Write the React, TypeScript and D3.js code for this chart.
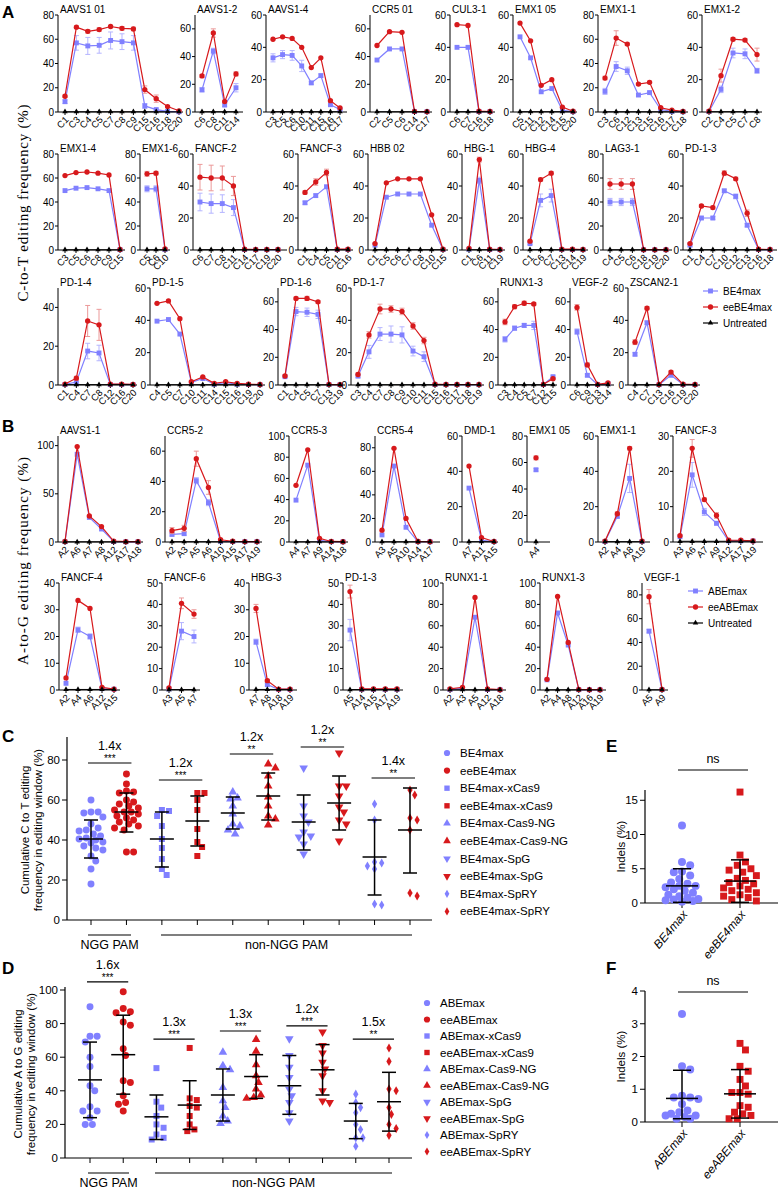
import React from "react";
import * as d3 from "d3";

const FONT = "Arial, 'Liberation Sans', Helvetica, sans-serif";
const SERIF = "'Times New Roman', 'Liberation Serif', serif";
const BLUE = "#8080ff";
const RED = "#d7191c";
const BLUE_ERR = "#b5b5ff";
const RED_ERR = "#eb9999";

// ---------- A: C-to-T editing, BE4max vs eeBE4max (%) ----------
const aavs1_01Sites = ["C1", "C3", "C4", "C5", "C7", "C8", "C9", "C15", "C16", "C18", "C20"];
const aavs1_01Ee = [13, 70, 66.5, 68, 70.5, 69, 68.5, 18.5, 11, 4.5, 1];
const aavs1_01Be = [8.5, 57, 54.5, 55, 59, 58, 57, 5, 2, 0.5, 0.2];
const aavs1_01EeErr = [1, 1, 1.5, 1.5, 1, 1.5, 1.5, 3, 3, 0.5, 0.5];
const aavs1_01BeErr = [1.5, 6, 7, 6.5, 7, 6.5, 6, 2, 1, 0.3, 0.2];

const aavs1_2Sites = ["C6", "C8", "C11", "C14"];
const aavs1_2Ee = [26, 57, 7.5, 27.5];
const aavs1_2Be = [16, 44, 5, 17.5];
const aavs1_2EeErr = [1, 3, 1, 1.5];
const aavs1_2BeErr = [1.5, 2, 1, 3];

const aavs1_4Sites = ["C3", "C5", "C6", "C10", "C11", "C15", "C16", "C17"];
const aavs1_4Ee = [45, 46.5, 45.5, 40, 27.5, 33.5, 7, 2.5];
const aavs1_4Be = [33.5, 35.5, 35, 28.5, 18, 22.5, 4.5, 1.5];
const aavs1_4BeErr = [2.5, 2.5, 3, 3.5, 1, 1, 0.5, 0.5];

const ccr5_01Sites = ["C2", "C5", "C6", "C14", "C17"];
const ccr5_01Ee = [48, 58, 57.5, 0.5, 0.3];
const ccr5_01Be = [37.5, 45.5, 45.5, 0.3, 0.2];

const cul3_1Sites = ["C6", "C7", "C16", "C18"];
const cul3_1Ee = [54, 53.5, 0.5, 0.3];
const cul3_1Be = [40, 40, 0.3, 0.2];

const emx1_05Sites = ["C5", "C11", "C12", "C14", "C15", "C20"];
const emx1_05Ee = [55, 44, 16.5, 20, 3, 0.5];
const emx1_05Be = [46.5, 33.5, 12.5, 14.5, 1, 0.2];

const emx1_1Sites = ["C3", "C6", "C12", "C13", "C15", "C16", "C17", "C18"];
const emx1_1Ee = [28, 61, 56, 23, 24.5, 3.5, 1.5, 0.5];
const emx1_1Be = [17, 37.5, 34, 14, 16, 2, 0.5, 0.2];
const emx1_1EeErr = [1.5, 6, 1, 1, 1, 0.5, 0.5, 0.3];
const emx1_1BeErr = [2.5, 4, 3, 1, 1, 0.5, 0.3, 0.2];

const emx1_2Sites = ["C2", "C4", "C5", "C7", "C8"];
const emx1_2Ee = [0.5, 22.5, 45, 44.5, 35.5];
const emx1_2Be = [0.3, 14, 36.5, 36, 25.5];
const emx1_2EeErr = [0, 4, 1, 1, 4];
const emx1_2BeErr = [0, 2, 3, 3, 1.5];

const emx1_4Sites = ["C3", "C5", "C6", "C8", "C9", "C15"];
const emx1_4Ee = [62, 64.5, 65, 64, 62.5, 0.5];
const emx1_4Be = [49.5, 51.5, 52, 51, 49.5, 0.3];

const emx1_6Sites = ["C5", "C6", "C10"];
const emx1_6Ee = [63.5, 64, 1];
const emx1_6Be = [51, 51, 0.5];
const emx1_6EeErr = [2, 1.5, 0];
const emx1_6BeErr = [2.5, 2.5, 0];

const fancf_2Sites = ["C6", "C7", "C8", "C11", "C14", "C17", "C19", "C20"];
const fancf_2Ee = [45.5, 45, 45, 40, 0.5, 0.3, 0.3, 0.3];
const fancf_2Be = [30, 29, 29, 26.5, 0.3, 0.2, 0.2, 0.2];
const fancf_2EeErr = [8, 8, 7.5, 6, 0, 0, 0, 0];
const fancf_2BeErr = [5.5, 6, 5.5, 5, 0, 0, 0, 0];

const fancf_3Sites = ["C1", "C4", "C5", "C11", "C16"];
const fancf_3Ee = [36, 42.5, 48.5, 0.5, 0.5];
const fancf_3Be = [29.5, 34, 39.5, 0.3, 0.3];
const fancf_3EeErr = [1, 2, 2, 0, 0];
const fancf_3BeErr = [1, 1, 1, 0, 0];

const hbb_02Sites = ["C1", "C5", "C6", "C7", "C8", "C10", "C15"];
const hbb_02Ee = [4, 42, 44.5, 44.5, 44.5, 22, 0.5];
const hbb_02Be = [3, 33, 35, 35, 35, 15.5, 0.3];

const hbg_1Sites = ["C1", "C6", "C11", "C19"];
const hbg_1Ee = [1, 56.5, 0.5, 0.3];
const hbg_1Be = [0.5, 43.5, 0.3, 0.2];
const hbg_1EeErr = [0, 1.5, 0, 0];
const hbg_1BeErr = [0, 2, 0, 0];

const hbg_4Sites = ["C1", "C6", "C7", "C13", "C14", "C19"];
const hbg_4Ee = [5.5, 44, 48, 0.5, 0.5, 0.3];
const hbg_4Be = [4, 31, 34, 0.3, 0.3, 0.2];
const hbg_4EeErr = [0.5, 1, 1, 0, 0, 0];
const hbg_4BeErr = [0.5, 4, 4, 0, 0, 0];

const lag3_1Sites = ["C4", "C5", "C6", "C18", "C19", "C20"];
const lag3_1Ee = [55, 55, 55, 0.3, 0.3, 0.3];
const lag3_1Be = [40, 40, 40, 0.2, 0.2, 0.2];
const lag3_1EeErr = [4.5, 4.5, 4.5, 0, 0, 0];
const lag3_1BeErr = [3, 3, 3, 0, 0, 0];

const pd1_3Sites = ["C1", "C4", "C7", "C10", "C12", "C13", "C16", "C18"];
const pd1_3Ee = [4, 27.5, 26.5, 48, 44.5, 23, 0.5, 0.3];
const pd1_3Be = [3, 20, 20, 37, 33.5, 15.5, 0.3, 0.2];
const pd1_3EeErr = [0.5, 1, 1, 1.5, 1, 2, 0, 0];
const pd1_3BeErr = [0.5, 1, 1, 1, 1.5, 1, 0, 0];

const pd1_4Sites = ["C1", "C4", "C7", "C8", "C12", "C16", "C20"];
const pd1_4Ee = [0.5, 3.5, 33, 31, 0.5, 0.5, 0.3];
const pd1_4Be = [0.3, 1.5, 17.5, 16.5, 0.3, 0.3, 0.2];
const pd1_4EeErr = [0.3, 1, 8, 8, 0, 0, 0];
const pd1_4BeErr = [0.2, 1, 4, 4, 0, 0, 0];

const pd1_5Sites = ["C4", "C5", "C7", "C10", "C11", "C14", "C15", "C16", "C19", "C20"];
const pd1_5Ee = [50.5, 52, 41, 2, 5, 1, 2, 1, 0.5, 0.3];
const pd1_5Be = [39.5, 40.5, 31.5, 1.5, 4, 0.5, 1.5, 0.5, 0.3, 0.2];

const pd1_6Sites = ["C1", "C4", "C5", "C7", "C13", "C19"];
const pd1_6Ee = [6.5, 62.5, 62.5, 60, 0.5, 0.3];
const pd1_6Be = [6, 53, 52.5, 51, 0.3, 0.2];
const pd1_6EeErr = [0.5, 1, 1.5, 1, 0, 0];
const pd1_6BeErr = [0.5, 3, 3, 3, 0, 0];

const pd1_7Sites = ["C3", "C4", "C7", "C8", "C9", "C10", "C11", "C15", "C16", "C17", "C18", "C19"];
const pd1_7Ee = [6.5, 31, 47, 47, 45.5, 36.5, 27.5, 0.5, 0.3, 0.3, 0.3, 0.3];
const pd1_7Be = [5.5, 20.5, 31.5, 31.5, 31, 21, 17.5, 0.3, 0.2, 0.2, 0.2, 0.2];
const pd1_7EeErr = [1, 2, 3, 2, 2, 2, 2, 0, 0, 0, 0, 0];
const pd1_7BeErr = [1, 4, 4, 5, 5, 3, 3, 0, 0, 0, 0, 0];

const runx1_3Sites = ["C3", "C4", "C5", "C7", "C12", "C15"];
const runx1_3Ee = [45.5, 56.5, 59, 58.5, 0.5, 4.5];
const runx1_3Be = [33, 41, 43, 43, 0.3, 6];
const runx1_3EeErr = [2, 1.5, 1.5, 1, 0, 0.5];
const runx1_3BeErr = [2, 1.5, 1.5, 3, 0, 0.5];

const vegf_2Sites = ["C6", "C9", "C13", "C14"];
const vegf_2Ee = [56, 14.5, 0.5, 1.5];
const vegf_2Be = [38.5, 7, 0.3, 1];
const vegf_2EeErr = [2, 1.5, 0, 0.3];
const vegf_2BeErr = [2, 1, 0, 0.3];

const zscan2_1Sites = ["C4", "C7", "C13", "C16", "C19", "C20"];
const zscan2_1Ee = [26.5, 47.5, 0.3, 8, 0.5, 0.3];
const zscan2_1Be = [19, 38.5, 0.2, 6, 0.3, 0.2];
const zscan2_1EeErr = [1.5, 1, 0, 0.8, 0, 0];
const zscan2_1BeErr = [1, 1, 0, 0.8, 0, 0];

// ---------- B: A-to-G editing, ABEmax vs eeABEmax (%) ----------
const aavs1_1Sites = ["A2", "A6", "A7", "A8", "A12", "A17", "A18"];
const aavs1_1Ee = [0.5, 99, 27, 16, 1, 0.3, 0.3];
const aavs1_1Be = [0.3, 91, 25.5, 13.5, 0.5, 0.2, 0.2];

const ccr5_2Sites = ["A2", "A3", "A5", "A6", "A10", "A15", "A17", "A19"];
const ccr5_2Ee = [7.5, 9, 55, 36, 1.5, 0.5, 0.3, 0.3];
const ccr5_2Be = [5, 5.5, 40.5, 26, 0.5, 0.3, 0.2, 0.2];
const ccr5_2EeErr = [2, 2, 5, 4.5, 0.5, 0, 0, 0];
const ccr5_2BeErr = [1, 1, 2, 2, 0.3, 0, 0, 0];

const ccr5_3Sites = ["A4", "A7", "A9", "A14", "A18"];
const ccr5_3Ee = [53.5, 87, 3.5, 0.5, 0.3];
const ccr5_3Be = [39.5, 72.5, 1.5, 0.3, 0.2];

const ccr5_4Sites = ["A3", "A5", "A10", "A14", "A17"];
const ccr5_4Ee = [10, 79.5, 20, 0.5, 0.3];
const ccr5_4Be = [6, 64.5, 12.5, 0.3, 0.2];

const dmd_1Sites = ["A7", "A11", "A15"];
const dmd_1Ee = [43, 2.5, 0.3];
const dmd_1Be = [30.5, 1, 0.2];

const emx1_05bSites = ["A4"];
const emx1_05bEe = [63.5];
const emx1_05bBe = [54.5];
const emx1_05bEeErr = [1.5];
const emx1_05bBeErr = [1];

const emx1_1bSites = ["A2", "A4", "A8", "A19"];
const emx1_1bEe = [0.5, 16, 53, 0.5];
const emx1_1bBe = [0.3, 14.5, 36, 0.3];
const emx1_1bEeErr = [0, 1, 1, 0];
const emx1_1bBeErr = [0, 1, 8, 0];

const fancf_3bSites = ["A3", "A6", "A7", "A9", "A12", "A17", "A19"];
const fancf_3bEe = [1.8, 26.5, 12, 7.5, 0.5, 0.5, 0.3];
const fancf_3bBe = [1.5, 19, 8.5, 5.3, 0.3, 0.3, 0.3];
const fancf_3bEeErr = [0.3, 2.5, 0.5, 0.8, 0, 0, 0];
const fancf_3bBeErr = [0.3, 3.5, 1, 0.5, 0, 0, 0];

const fancf_4Sites = ["A2", "A4", "A6", "A12", "A15"];
const fancf_4Ee = [4.5, 33.5, 30.5, 1, 0.3];
const fancf_4Be = [2.5, 22.5, 20, 0.5, 0.3];
const fancf_4BeErr = [0.3, 1, 1, 0, 0];

const fancf_6Sites = ["A3", "A5", "A7"];
const fancf_6Ee = [1, 40.5, 35.5];
const fancf_6Be = [0.5, 27.5, 25];
const fancf_6EeErr = [0.3, 2.5, 2];
const fancf_6BeErr = [0.3, 4, 3];

const hbg_3Sites = ["A7", "A8", "A18", "A19"];
const hbg_3Ee = [30.5, 3.5, 0.3, 0.3];
const hbg_3Be = [18, 2, 0.2, 0.2];
const hbg_3EeErr = [1.5, 0.5, 0, 0];
const hbg_3BeErr = [1, 0.5, 0, 0];

const pd1_3bSites = ["A5", "A14", "A15", "A17", "A19"];
const pd1_3bEe = [46, 0.5, 0.5, 0.5, 0.5];
const pd1_3bBe = [28, 0.3, 0.3, 0.3, 0.3];
const pd1_3bEeErr = [3, 0, 0, 0, 0];
const pd1_3bBeErr = [5, 0, 0, 0, 0];

const runx1_1Sites = ["A2", "A3", "A5", "A12", "A18"];
const runx1_1Ee = [1, 2.5, 86.5, 1, 0.3];
const runx1_1Be = [0.5, 1.5, 68, 0.5, 0.3];

const runx1_3bSites = ["A2", "A4", "A8", "A12", "A16", "A19"];
const runx1_3bEe = [10, 87.5, 44.5, 0.5, 0.3, 0.3];
const runx1_3bBe = [9.5, 72, 42, 0.3, 0.2, 0.2];

const vegf_1Sites = ["A5", "A9"];
const vegf_1Ee = [78.5, 0.5];
const vegf_1Be = [49.5, 0.3];
const vegf_1EeErr = [6, 0];
const vegf_1BeErr = [1.5, 0];

// untreated controls read as ~0 at every site
const untreatedLevel = 0.2;

// ---------- C: cumulative C-to-T editing per variant ----------
const cGroups = ["BE4max", "eeBE4max", "BE4max-xCas9", "eeBE4max-xCas9", "BE4max-Cas9-NG", "eeBE4max-Cas9-NG", "BE4max-SpG", "eeBE4max-SpG", "BE4max-SpRY", "eeBE4max-SpRY"];
const cBE4max = [60, 54, 53.5, 54, 51.5, 48, 46, 45, 44.5, 43, 42, 41, 40.5, 40, 39, 38.5, 37, 36, 35, 32, 29.5, 25.5, 18];
const cEeBE4max = [73, 68, 64, 64.5, 63.5, 60, 59, 58, 57, 56, 55, 54, 54, 53, 52, 51, 50, 49, 48, 47, 46, 45, 34, 34];
const cBE4maxX = [55, 54.5, 52, 47, 40.5, 36, 30.5, 25.5, 22.5];
const cEeBE4maxX = [63.5, 63.5, 60, 55, 45.5, 39, 36.5, 32];
const cBE4maxNG = [64, 61, 60.5, 57, 53, 48, 47, 45, 43];
const cEeBE4maxNG = [78, 76, 72, 67, 61.5, 57, 52, 50.5, 47.5];
const cBE4maxSpG = [76, 57, 52, 49, 44, 42, 41.5, 38, 33];
const cEeBE4maxSpG = [83.5, 67, 67, 62, 56.5, 54, 50, 48, 39.5];
const cBE4maxSpRY = [58, 50, 28.5, 27, 25.5, 29, 8, 7.5];
const cEeBE4maxSpRY = [65, 62.5, 51, 50, 45, 13.5, 12];
const cMean = [40.5, 54, 40.5, 49.5, 53.5, 62, 49, 58.5, 31.5, 45];
const cSdLow = [31, 44, 26.5, 37, 45.5, 50, 35, 45, 12.5, 23.5];
const cSdHigh = [50, 63.5, 54, 62, 61.5, 73.5, 62.5, 72, 50, 66];
const cFold = ["1.4x", "1.2x", "1.2x", "1.2x", "1.4x"];
const cStars = ["***", "***", "**", "**", "**"];
const cBracketAt = [78.5, 70, 83, 86.5, 71];

// ---------- D: cumulative A-to-G editing per variant ----------
const dGroups = ["ABEmax", "eeABEmax", "ABEmax-xCas9", "eeABEmax-xCas9", "ABEmax-Cas9-NG", "eeABEmax-Cas9-NG", "ABEmax-SpG", "eeABEmax-SpG", "ABEmax-SpRY", "eeABEmax-SpRY"];
const dABEmax = [90, 72.5, 72.5, 69, 60, 54.5, 43, 40, 30.5, 28, 28, 24, 20, 20];
const dEeABEmax = [99, 89, 87, 86.5, 81, 79, 65, 61, 46, 45, 37, 33, 32, 28];
const dABEmaxX = [53.5, 33.5, 30, 25, 20, 18, 14, 12, 11];
const dEeABEmaxX = [65.5, 35.5, 34.5, 31, 30, 25, 20, 17, 16];
const dABEmaxNG = [63, 55, 52.5, 42, 34, 30, 25, 22, 20.5];
const dEeABEmaxNG = [70.5, 63.5, 55.5, 49, 45, 41, 37.5, 36, 35.5];
const dABEmaxSpG = [71, 61, 54, 48, 41, 37, 33, 27, 22];
const dEeABEmaxSpG = [75, 67, 62.5, 57, 53, 49, 40, 34, 33];
const dABEmaxSpRY = [38, 33, 30, 27, 20, 17, 12, 12, 7];
const dEeABEmaxSpRY = [65.5, 57.5, 41, 40, 30, 26, 20, 17.5, 13.5];
const dMean = [46.5, 61.5, 24.5, 31.5, 37.5, 48.5, 43, 52.5, 22, 33.5];
const dSdLow = [24, 38, 11, 17, 22, 35.5, 26, 37.5, 11.5, 16];
const dSdHigh = [69, 85, 37.5, 46, 53, 61.5, 61, 67.5, 32.5, 51];
const dFold = ["1.6x", "1.3x", "1.3x", "1.2x", "1.5x"];
const dStars = ["***", "***", "***", "***", "**"];
const dBracketAt = [104.8, 70.8, 75.6, 78.6, 70.8];

// ---------- E / F: indels (%) ----------
const eGroups = ["BE4max", "eeBE4max"];
const eBE4max = [11.3, 6, 5.5, 4.6, 4.5, 4, 3.5, 3, 2.8, 2.5, 2.5, 2.3, 2, 1.8, 1.5, 1.2, 1, 0.8, 0.6, 0.5, 0.4, 0.3, 0.2];
const eEeBE4max = [16.2, 7, 6, 5.5, 5, 4.8, 4.5, 4, 3.6, 3.3, 3, 2.8, 2.5, 2.2, 2, 1.8, 1.5, 1.2, 1, 0.8, 0.5, 0.3];
const eMean = [2.5, 3.2];
const eSdLow = [0.1, 0.1];
const eSdHigh = [5, 6.3];

const fGroups = ["ABEmax", "eeABEmax"];
const fABEmax = [3.3, 1.7, 1.6, 0.8, 0.75, 0.75, 0.7, 0.55, 0.35, 0.3, 0.25, 0.2, 0.2, 0.15, 0.1, 0.1];
const fEeABEmax = [2.4, 2.2, 1.7, 1.55, 1.3, 1.1, 0.9, 0.9, 0.85, 0.5, 0.45, 0.3, 0.25, 0.2, 0.1, 0.1];
const fMean = [0.72, 0.86];
const fSdLow = [0.1, 0.12];
const fSdHigh = [1.58, 1.6];

// ---------- subplot tables ----------
type Sub = { title: string; sites: string[]; ee: number[]; be: number[]; eeErr?: number[]; beErr?: number[]; yMax: number; step: number };

const rowA1: Sub[] = [
  { title: "AAVS1 01", sites: aavs1_01Sites, ee: aavs1_01Ee, be: aavs1_01Be, eeErr: aavs1_01EeErr, beErr: aavs1_01BeErr, yMax: 80, step: 20 },
  { title: "AAVS1-2", sites: aavs1_2Sites, ee: aavs1_2Ee, be: aavs1_2Be, eeErr: aavs1_2EeErr, beErr: aavs1_2BeErr, yMax: 70, step: 20 },
  { title: "AAVS1-4", sites: aavs1_4Sites, ee: aavs1_4Ee, be: aavs1_4Be, beErr: aavs1_4BeErr, yMax: 60, step: 20 },
  { title: "CCR5 01", sites: ccr5_01Sites, ee: ccr5_01Ee, be: ccr5_01Be, yMax: 70, step: 20 },
  { title: "CUL3-1", sites: cul3_1Sites, ee: cul3_1Ee, be: cul3_1Be, yMax: 60, step: 20 },
  { title: "EMX1 05", sites: emx1_05Sites, ee: emx1_05Ee, be: emx1_05Be, yMax: 60, step: 20 },
  { title: "EMX1-1", sites: emx1_1Sites, ee: emx1_1Ee, be: emx1_1Be, eeErr: emx1_1EeErr, beErr: emx1_1BeErr, yMax: 80, step: 20 },
  { title: "EMX1-2", sites: emx1_2Sites, ee: emx1_2Ee, be: emx1_2Be, eeErr: emx1_2EeErr, beErr: emx1_2BeErr, yMax: 60, step: 20 },
];
const rowA2: Sub[] = [
  { title: "EMX1-4", sites: emx1_4Sites, ee: emx1_4Ee, be: emx1_4Be, yMax: 80, step: 20 },
  { title: "EMX1-6", sites: emx1_6Sites, ee: emx1_6Ee, be: emx1_6Be, eeErr: emx1_6EeErr, beErr: emx1_6BeErr, yMax: 80, step: 20 },
  { title: "FANCF-2", sites: fancf_2Sites, ee: fancf_2Ee, be: fancf_2Be, eeErr: fancf_2EeErr, beErr: fancf_2BeErr, yMax: 60, step: 20 },
  { title: "FANCF-3", sites: fancf_3Sites, ee: fancf_3Ee, be: fancf_3Be, eeErr: fancf_3EeErr, beErr: fancf_3BeErr, yMax: 60, step: 20 },
  { title: "HBB 02", sites: hbb_02Sites, ee: hbb_02Ee, be: hbb_02Be, yMax: 60, step: 20 },
  { title: "HBG-1", sites: hbg_1Sites, ee: hbg_1Ee, be: hbg_1Be, eeErr: hbg_1EeErr, beErr: hbg_1BeErr, yMax: 60, step: 20 },
  { title: "HBG-4", sites: hbg_4Sites, ee: hbg_4Ee, be: hbg_4Be, eeErr: hbg_4EeErr, beErr: hbg_4BeErr, yMax: 60, step: 20 },
  { title: "LAG3-1", sites: lag3_1Sites, ee: lag3_1Ee, be: lag3_1Be, eeErr: lag3_1EeErr, beErr: lag3_1BeErr, yMax: 80, step: 20 },
  { title: "PD-1-3", sites: pd1_3Sites, ee: pd1_3Ee, be: pd1_3Be, eeErr: pd1_3EeErr, beErr: pd1_3BeErr, yMax: 60, step: 20 },
];
const rowA3: Sub[] = [
  { title: "PD-1-4", sites: pd1_4Sites, ee: pd1_4Ee, be: pd1_4Be, eeErr: pd1_4EeErr, beErr: pd1_4BeErr, yMax: 50, step: 20 },
  { title: "PD-1-5", sites: pd1_5Sites, ee: pd1_5Ee, be: pd1_5Be, yMax: 60, step: 20 },
  { title: "PD-1-6", sites: pd1_6Sites, ee: pd1_6Ee, be: pd1_6Be, eeErr: pd1_6EeErr, beErr: pd1_6BeErr, yMax: 70, step: 20 },
  { title: "PD-1-7", sites: pd1_7Sites, ee: pd1_7Ee, be: pd1_7Be, eeErr: pd1_7EeErr, beErr: pd1_7BeErr, yMax: 60, step: 20 },
  { title: "RUNX1-3", sites: runx1_3Sites, ee: runx1_3Ee, be: runx1_3Be, eeErr: runx1_3EeErr, beErr: runx1_3BeErr, yMax: 70, step: 20 },
  { title: "VEGF-2", sites: vegf_2Sites, ee: vegf_2Ee, be: vegf_2Be, eeErr: vegf_2EeErr, beErr: vegf_2BeErr, yMax: 70, step: 20 },
  { title: "ZSCAN2-1", sites: zscan2_1Sites, ee: zscan2_1Ee, be: zscan2_1Be, eeErr: zscan2_1EeErr, beErr: zscan2_1BeErr, yMax: 60, step: 20 },
];
const rowB1: Sub[] = [
  { title: "AAVS1-1", sites: aavs1_1Sites, ee: aavs1_1Ee, be: aavs1_1Be, yMax: 110, step: 50 },
  { title: "CCR5-2", sites: ccr5_2Sites, ee: ccr5_2Ee, be: ccr5_2Be, eeErr: ccr5_2EeErr, beErr: ccr5_2BeErr, yMax: 70, step: 20 },
  { title: "CCR5-3", sites: ccr5_3Sites, ee: ccr5_3Ee, be: ccr5_3Be, yMax: 100, step: 20 },
  { title: "CCR5-4", sites: ccr5_4Sites, ee: ccr5_4Ee, be: ccr5_4Be, yMax: 90, step: 20 },
  { title: "DMD-1", sites: dmd_1Sites, ee: dmd_1Ee, be: dmd_1Be, yMax: 60, step: 20 },
  { title: "EMX1 05", sites: emx1_05bSites, ee: emx1_05bEe, be: emx1_05bBe, eeErr: emx1_05bEeErr, beErr: emx1_05bBeErr, yMax: 80, step: 20 },
  { title: "EMX1-1", sites: emx1_1bSites, ee: emx1_1bEe, be: emx1_1bBe, eeErr: emx1_1bEeErr, beErr: emx1_1bBeErr, yMax: 60, step: 20 },
  { title: "FANCF-3", sites: fancf_3bSites, ee: fancf_3bEe, be: fancf_3bBe, eeErr: fancf_3bEeErr, beErr: fancf_3bBeErr, yMax: 30, step: 10 },
];
const rowB2: Sub[] = [
  { title: "FANCF-4", sites: fancf_4Sites, ee: fancf_4Ee, be: fancf_4Be, beErr: fancf_4BeErr, yMax: 40, step: 10 },
  { title: "FANCF-6", sites: fancf_6Sites, ee: fancf_6Ee, be: fancf_6Be, eeErr: fancf_6EeErr, beErr: fancf_6BeErr, yMax: 50, step: 10 },
  { title: "HBG-3", sites: hbg_3Sites, ee: hbg_3Ee, be: hbg_3Be, eeErr: hbg_3EeErr, beErr: hbg_3BeErr, yMax: 40, step: 10 },
  { title: "PD-1-3", sites: pd1_3bSites, ee: pd1_3bEe, be: pd1_3bBe, eeErr: pd1_3bEeErr, beErr: pd1_3bBeErr, yMax: 50, step: 10 },
  { title: "RUNX1-1", sites: runx1_1Sites, ee: runx1_1Ee, be: runx1_1Be, yMax: 100, step: 20 },
  { title: "RUNX1-3", sites: runx1_3bSites, ee: runx1_3bEe, be: runx1_3bBe, yMax: 100, step: 20 },
  { title: "VEGF-1", sites: vegf_1Sites, ee: vegf_1Ee, be: vegf_1Be, eeErr: vegf_1EeErr, beErr: vegf_1BeErr, yMax: 90, step: 20 },
];

// layout: [y-axis x, last point x, x-axis end] per subplot
const slotsA1 = [[58, 179, 183], [195, 236, 243], [266, 340, 347], [370, 427, 432], [450, 490, 495], [513, 573, 577], [598, 683, 688], [702, 757, 762]];
const slotsA2 = [[58, 120, 125], [140, 165, 170], [193, 278, 287], [298, 348, 353], [368, 443, 448], [462, 500, 505], [523, 583, 588], [603, 666, 672], [683, 770, 777]];
const slotsA3 = [[58, 133, 137], [150, 260, 265], [278, 340, 345], [351, 479, 484], [498, 553, 557], [570, 608, 614], [628, 695, 700]];
const slotsB1 = [[58, 138, 143], [165, 257, 262], [289, 343, 348], [375, 430, 440], [462, 494, 498], [527, 538, 550], [598, 642, 650], [673, 753, 763]];
const slotsB2 = [[59, 114, 120], [162, 194, 200], [249, 290, 297], [343, 397, 403], [443, 500, 506], [540, 600, 606], [642, 662, 668]];

const tri = d3.symbol().type(d3.symbolTriangle).size(13)()!;
const sq = d3.symbol().type(d3.symbolSquare).size(24)()!;
const circ = d3.symbol().type(d3.symbolCircle).size(22)()!;

function ErrBars({ xs, vals, errs, y, color }: any) {
  if (!errs) return null;
  return (
    <g stroke={color} strokeWidth={1}>
      {vals.map((v: number, i: number) =>
        errs[i] > 0.4 ? (
          <g key={i}>
            <line x1={xs[i]} x2={xs[i]} y1={y(v - errs[i])} y2={y(v + errs[i])} />
            <line x1={xs[i] - 2.5} x2={xs[i] + 2.5} y1={y(v + errs[i])} y2={y(v + errs[i])} />
            <line x1={xs[i] - 2.5} x2={xs[i] + 2.5} y1={y(Math.max(0, v - errs[i]))} y2={y(Math.max(0, v - errs[i]))} />
          </g>
        ) : null
      )}
    </g>
  );
}

function LinePlot({ s, slot, top, bottom }: { s: Sub; slot: number[]; top: number; bottom: number }) {
  const [ax, last, end] = slot;
  const x = d3.scalePoint<string>().domain(s.sites).range([ax + 7, last]).align(0.5);
  const y = d3.scaleLinear().domain([0, s.yMax]).range([bottom, top]);
  const xs = s.sites.map((c) => x(c)!);
  const line = d3.line<number>().x((_, i) => xs[i]).y((d) => y(d));
  const ticks = d3.range(0, s.yMax + 0.01, s.step);
  const untreated = s.sites.map(() => untreatedLevel);
  return (
    <g fontFamily={FONT}>
      <text x={ax + 2} y={top - 2} fontSize={10}>{s.title}</text>
      <line x1={ax} x2={ax} y1={top} y2={bottom} stroke="#000" />
      <line x1={ax} x2={end} y1={bottom} y2={bottom} stroke="#000" />
      {ticks.map((t) => (
        <g key={t}>
          <line x1={ax - 3} x2={ax} y1={y(t)} y2={y(t)} stroke="#000" />
          <text x={ax - 4} y={y(t)} dy="0.35em" textAnchor="end" fontSize={10}>{t}</text>
        </g>
      ))}
      {s.sites.map((c, i) => (
        <g key={c}>
          <line x1={xs[i]} x2={xs[i]} y1={bottom} y2={bottom + 3} stroke="#000" />
          <text transform={`translate(${xs[i] + 2},${bottom + 6}) rotate(-45)`} textAnchor="end" dy="0.35em" fontSize={9.5}>{c}</text>
        </g>
      ))}
      <ErrBars xs={xs} vals={s.be} errs={s.beErr} y={y} color={BLUE_ERR} />
      <path d={line(s.be)!} fill="none" stroke={BLUE} strokeWidth={1.2} />
      {s.be.map((v, i) => <path key={i} d={sq} transform={`translate(${xs[i]},${y(v)})`} fill={BLUE} />)}
      <ErrBars xs={xs} vals={s.ee} errs={s.eeErr} y={y} color={RED_ERR} />
      <path d={line(s.ee)!} fill="none" stroke={RED} strokeWidth={1.2} />
      {s.ee.map((v, i) => <path key={i} d={circ} transform={`translate(${xs[i]},${y(v)})`} fill={RED} />)}
      <path d={line(untreated)!} fill="none" stroke="#000" strokeWidth={1} />
      {untreated.map((v, i) => <path key={i} d={tri} transform={`translate(${xs[i]},${y(v)})`} fill="#000" />)}
    </g>
  );
}

function LineLegend({ x, y, names }: { x: number; y: number; names: string[] }) {
  const marks = [sq, circ, tri];
  const cols = [BLUE, RED, "#000"];
  return (
    <g fontFamily={FONT} fontSize={10}>
      {names.map((n, i) => (
        <g key={n} transform={`translate(${x},${y + i * 16})`}>
          <line x1={0} x2={15} stroke={cols[i]} strokeWidth={1.2} />
          <path d={marks[i]} transform="translate(7.5,0)" fill={cols[i]} />
          <text x={20} dy="0.35em">{n}</text>
        </g>
      ))}
    </g>
  );
}

const groupShapes = [d3.symbolCircle, d3.symbolCircle, d3.symbolSquare, d3.symbolSquare, d3.symbolTriangle, d3.symbolTriangle, d3.symbolTriangle, d3.symbolTriangle, d3.symbolDiamond, d3.symbolDiamond];
const groupSizes = [38, 38, 36, 36, 32, 32, 32, 32, 24, 24];
const groupFlip = [false, false, false, false, false, false, true, true, false, false];

// beeswarm offsets within +/- maxOff so points of one group overlap little
function swarm(ys: number[], r: number, maxOff: number): number[] {
  const placed: { x: number; y: number }[] = [];
  const out: number[] = new Array(ys.length).fill(0);
  const order = d3.range(ys.length).sort((a, b) => ys[a] - ys[b]);
  const stepX = r * 0.7;
  const cands = [0];
  for (let k = 1; k * stepX <= maxOff; k++) cands.push(k * stepX, -k * stepX);
  for (const i of order) {
    let best = 0;
    let bestGap = -Infinity;
    for (const c of cands) {
      const gap = placed.length ? d3.min(placed, (p) => Math.hypot(p.x - c, p.y - ys[i]))! : Infinity;
      if (gap >= 2 * r) { best = c; bestGap = gap; break; }
      if (gap > bestGap) { bestGap = gap; best = c; }
    }
    placed.push({ x: best, y: ys[i] });
    out[i] = best;
  }
  return out;
}

function DotGroups({ groups, values, mean, lo, hi, x, y, r, maxOff, meanHalf, capHalf, shapes, sizes, flip }: any) {
  return (
    <g>
      {groups.map((g: string, gi: number) => {
        const ys = values[gi].map((v: number) => y(v));
        const offs = swarm(ys, r, maxOff);
        const cx = x(g);
        const col = gi % 2 === 0 ? BLUE : RED;
        const sym = d3.symbol().type(shapes[gi]).size(sizes[gi])()!;
        return (
          <g key={g}>
            {ys.map((yy: number, i: number) => (
              <path key={i} d={sym} fill={col} transform={`translate(${cx + offs[i]},${yy})${flip[gi] ? " rotate(180)" : ""}`} />
            ))}
            <g stroke="#000" strokeWidth={1.5}>
              <line x1={cx} x2={cx} y1={y(lo[gi])} y2={y(hi[gi])} />
              <line x1={cx - meanHalf} x2={cx + meanHalf} y1={y(mean[gi])} y2={y(mean[gi])} />
              <line x1={cx - capHalf} x2={cx + capHalf} y1={y(lo[gi])} y2={y(lo[gi])} />
              <line x1={cx - capHalf} x2={cx + capHalf} y1={y(hi[gi])} y2={y(hi[gi])} />
            </g>
          </g>
        );
      })}
    </g>
  );
}

function VariantPanel({ groups, values, mean, lo, hi, fold, stars, bracketAt, xr, ax, axEnd, top, bottom, yMax, legendX, legendY, legendStep, labelX, label1, ngg, nonNgg, pamY }: any) {
  const x = d3.scalePoint<string>().domain(groups).range(xr);
  const y = d3.scaleLinear().domain([0, yMax]).range([bottom, top]);
  const ticks = d3.range(0, yMax + 0.01, 20);
  return (
    <g fontFamily={FONT}>
      <line x1={ax} x2={ax} y1={top - 3} y2={bottom} stroke="#000" strokeWidth={1.2} />
      <line x1={ax} x2={axEnd} y1={bottom} y2={bottom} stroke="#000" strokeWidth={1.2} />
      {ticks.map((t: number) => (
        <g key={t}>
          <line x1={ax - 5} x2={ax} y1={y(t)} y2={y(t)} stroke="#000" />
          <text x={ax - 7} y={y(t)} dy="0.35em" textAnchor="end" fontSize={11.5}>{t}</text>
        </g>
      ))}
      {groups.map((g: string) => <line key={g} x1={x(g)} x2={x(g)} y1={bottom} y2={bottom + 5} stroke="#000" />)}
      <DotGroups groups={groups} values={values} mean={mean} lo={lo} hi={hi} x={x} y={y} r={3.4} maxOff={13} meanHalf={12} capHalf={7} shapes={groupShapes} sizes={groupSizes} flip={groupFlip} />
      {fold.map((f: string, i: number) => {
        const xa = x(groups[2 * i])! - 3;
        const xb = x(groups[2 * i + 1])! + 5;
        const ly = y(bracketAt[i]);
        return (
          <g key={i}>
            <line x1={xa} x2={xb} y1={ly} y2={ly} stroke="#000" strokeWidth={1.2} />
            <text x={(xa + xb) / 2} y={ly - 13} textAnchor="middle" fontSize={12.5}>{f}</text>
            <text x={(xa + xb) / 2} y={ly - 1} textAnchor="middle" fontSize={10}>{stars[i]}</text>
          </g>
        );
      })}
      <g stroke="#000" strokeWidth={1.2}>
        <line x1={ngg[0]} x2={ngg[1]} y1={pamY} y2={pamY} />
        <line x1={nonNgg[0]} x2={nonNgg[1]} y1={pamY} y2={pamY} />
      </g>
      <text x={(ngg[0] + ngg[1]) / 2} y={pamY + 14} textAnchor="middle" fontSize={12.5}>NGG PAM</text>
      <text x={(nonNgg[0] + nonNgg[1]) / 2} y={pamY + 14} textAnchor="middle" fontSize={12.5}>non-NGG PAM</text>
      <g transform={`translate(${labelX},${(top + bottom) / 2}) rotate(-90)`} fontSize={11.5} textAnchor="middle">
        <text y={0}>{label1}</text>
        <text y={12.5}>frequency in editing window (%)</text>
      </g>
      {groups.map((g: string, i: number) => {
        const sym = d3.symbol().type(groupShapes[i]).size(groupSizes[i] * 0.8)()!;
        const ly = legendY + i * legendStep;
        return (
          <g key={g}>
            <path d={sym} fill={i % 2 === 0 ? BLUE : RED} transform={`translate(${legendX},${ly})${groupFlip[i] ? " rotate(180)" : ""}`} />
            <text x={legendX + 13} y={ly} dy="0.35em" fontSize={11.5}>{g}</text>
          </g>
        );
      })}
    </g>
  );
}

function IndelPanel({ groups, values, mean, lo, hi, top, bottom, yMax, step, nsY }: any) {
  const ax = 645;
  const x = d3.scalePoint<string>().domain(groups).range([682, 740]);
  const y = d3.scaleLinear().domain([0, yMax]).range([bottom, top]);
  const ticks = d3.range(0, Math.floor(yMax / step) * step + 0.001, step);
  return (
    <g fontFamily={FONT}>
      <line x1={ax} x2={ax} y1={top} y2={bottom} stroke="#000" strokeWidth={1.2} />
      <line x1={ax} x2={778} y1={bottom} y2={bottom} stroke="#000" strokeWidth={1.2} />
      {ticks.map((t: number) => (
        <g key={t}>
          <line x1={ax - 5} x2={ax} y1={y(t)} y2={y(t)} stroke="#000" />
          <text x={ax - 7} y={y(t)} dy="0.35em" textAnchor="end" fontSize={11.5}>{t}</text>
        </g>
      ))}
      {groups.map((g: string) => (
        <g key={g}>
          <line x1={x(g)} x2={x(g)} y1={bottom} y2={bottom + 5} stroke="#000" />
          <text transform={`translate(${x(g)! + 3},${bottom + 9}) rotate(-50)`} textAnchor="end" fontSize={12} fontStyle="italic" dy="0.35em">{g}</text>
        </g>
      ))}
      <DotGroups groups={groups} values={values} mean={mean} lo={lo} hi={hi} x={x} y={y} r={3.9} maxOff={17} meanHalf={16} capHalf={9} shapes={[d3.symbolCircle, d3.symbolSquare]} sizes={[50, 48]} flip={[false, false]} />
      <line x1={678} x2={748} y1={nsY} y2={nsY} stroke="#000" strokeWidth={1.2} />
      <text x={713} y={nsY - 7} textAnchor="middle" fontSize={12.5}>ns</text>
      <text transform={`translate(625,${(top + bottom) / 2}) rotate(-90)`} textAnchor="middle" fontSize={11.5}>Indels (%)</text>
    </g>
  );
}

export default function App() {
  const rows = [
    { subs: rowA1, slots: slotsA1, top: 15, bottom: 112 },
    { subs: rowA2, slots: slotsA2, top: 154, bottom: 250 },
    { subs: rowA3, slots: slotsA3, top: 288, bottom: 385 },
    { subs: rowB1, slots: slotsB1, top: 436, bottom: 542 },
    { subs: rowB2, slots: slotsB2, top: 583, bottom: 690 },
  ];
  return (
    <svg width={784} height={1189} style={{ position: "absolute", left: 0, top: 0, background: "#fff" }} fontFamily={FONT}>
      <rect width={784} height={1189} fill="#fff" />
      {rows.map((r, ri) =>
        r.subs.map((s, i) => <LinePlot key={`${ri}-${i}`} s={s} slot={r.slots[i]} top={r.top} bottom={r.bottom} />)
      )}
      <LineLegend x={703} y={291} names={["BE4max", "eeBE4max", "Untreated"]} />
      <LineLegend x={688} y={591} names={["ABEmax", "eeABEmax", "Untreated"]} />
      <text transform="translate(28,203) rotate(-90)" textAnchor="middle" fontFamily={SERIF} fontSize={15} textLength={197} lengthAdjust="spacing">C-to-T editing frequency (%)</text>
      <text transform="translate(28,561) rotate(-90)" textAnchor="middle" fontFamily={SERIF} fontSize={15} textLength={208} lengthAdjust="spacing">A-to-G editing frequency (%)</text>

      <VariantPanel
        groups={cGroups}
        values={[cBE4max, cEeBE4max, cBE4maxX, cEeBE4maxX, cBE4maxNG, cEeBE4maxNG, cBE4maxSpG, cEeBE4maxSpG, cBE4maxSpRY, cEeBE4maxSpRY]}
        mean={cMean} lo={cSdLow} hi={cSdHigh} fold={cFold} stars={cStars} bracketAt={cBracketAt}
        xr={[91, 410]} ax={67} axEnd={432} top={740} bottom={920} yMax={90}
        legendX={447} legendY={753} legendStep={17.6} labelX={29}
        label1="Cumulative C to T editing" ngg={[88, 131]} nonNgg={[161, 412]} pamY={935}
      />
      <VariantPanel
        groups={dGroups}
        values={[dABEmax, dEeABEmax, dABEmaxX, dEeABEmaxX, dABEmaxNG, dEeABEmaxNG, dABEmaxSpG, dEeABEmaxSpG, dABEmaxSpRY, dEeABEmaxSpRY]}
        mean={dMean} lo={dSdLow} hi={dSdHigh} fold={dFold} stars={dStars} bracketAt={dBracketAt}
        xr={[90, 389]} ax={65} axEnd={412} top={990} bottom={1158} yMax={100}
        legendX={427} legendY={1003} legendStep={16.5} labelX={22}
        label1="Cumulative A to G editing" ngg={[88, 129]} nonNgg={[155, 392]} pamY={1173}
      />
      <IndelPanel groups={eGroups} values={[eBE4max, eEeBE4max]} mean={eMean} lo={eSdLow} hi={eSdHigh} top={790} bottom={903} yMax={16.5} step={5} nsY={770} />
      <IndelPanel groups={fGroups} values={[fABEmax, fEeABEmax]} mean={fMean} lo={fSdLow} hi={fSdHigh} top={991} bottom={1122} yMax={4} step={1} nsY={992} />

      <g fontFamily={FONT} fontWeight="bold" fontSize={17}>
        <text x={2} y={18}>A</text>
        <text x={2} y={432}>B</text>
        <text x={2} y={742}>C</text>
        <text x={2} y={974}>D</text>
        <text x={606} y={752}>E</text>
        <text x={606} y={974}>F</text>
      </g>
    </svg>
  );
}
